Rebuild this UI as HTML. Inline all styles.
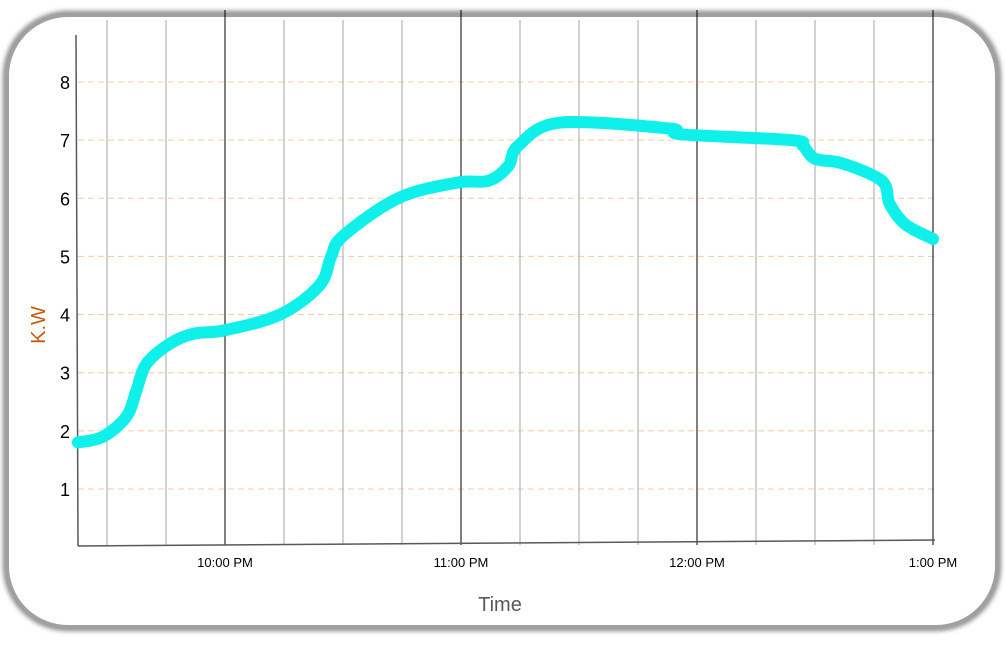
<!DOCTYPE html>
<html><head><meta charset="utf-8"><style>
body{margin:0;background:#fff;width:1005px;height:643px;overflow:hidden;font-family:"Liberation Sans",sans-serif}
</style></head><body>
<svg width="1005" height="643" xmlns="http://www.w3.org/2000/svg">
<defs><filter id="sh" x="-5%" y="-5%" width="110%" height="110%"><feGaussianBlur stdDeviation="2.5"/></filter></defs>
<rect x="6" y="14" width="992" height="614" rx="62" fill="none" stroke="#888" stroke-width="6" filter="url(#sh)"/>
<rect x="8" y="16" width="988" height="610" rx="60" fill="#fff" stroke="#a0a0a0" stroke-width="2"/>
<g id="grid"></g>
<g id="axes"></g>
<path id="line" fill="none" stroke="#0ff0ea" stroke-width="12" stroke-linecap="round" stroke-linejoin="round"/>
<text x="45" y="325" transform="rotate(-90 45 325)" text-anchor="middle" font-size="20" fill="#c55a11">K.W</text>
<text x="500" y="611" text-anchor="middle" font-size="20" fill="#595959">Time</text>
</svg>
<script>
const yTicks=[1,2,3,4,5,6,7,8];
const xTickMinutes=[60,120,180,240];
const xTickLabels=["10:00 PM","11:00 PM","12:00 PM","1:00 PM"];
const minorMinutes=[30,45,75,90,105,135,150,165,195,210,225];
const times=[22.6,29,35,37.5,40,46,52,60,74,84,87,90,104,119,127,132,134.5,145,173,176,204,207,210,217,227,229,233,240];
const values=[1.8,1.9,2.25,2.7,3.15,3.5,3.67,3.73,4.0,4.5,5.0,5.35,6.0,6.27,6.3,6.55,6.9,7.3,7.2,7.1,7.0,6.9,6.68,6.6,6.3,5.9,5.55,5.3];
const NS="http://www.w3.org/2000/svg";
const xs=m=>225+(m-60)*236/60;
const ys=v=>82+(8-v)*58.14;
const grid=document.getElementById('grid'),axes=document.getElementById('axes');
function mk(tag,attrs,parent){const e=document.createElementNS(NS,tag);for(const k in attrs)e.setAttribute(k,attrs[k]);parent.appendChild(e);return e;}
yTicks.forEach(v=>{
 const l=mk('line',{x1:78,x2:935,y1:ys(v),y2:ys(v),stroke:'#f8cbad','stroke-dasharray':'6 4','stroke-width':1},grid);
 
 
 const t=mk('text',{x:70,y:ys(v)+7,'text-anchor':'end','font-size':18,fill:'#000'},axes);
 t.textContent=v;
 
 
});
minorMinutes.forEach(m=>{
 const l=mk('line',{x1:xs(m),x2:xs(m),y1:20,y2:545,stroke:'#a6a6a6','stroke-width':1},grid);
 
 
});
xTickMinutes.forEach((m,i)=>{
 const l=mk('line',{x1:xs(m),x2:xs(m),y1:10,y2:545,stroke:'#000','stroke-width':1},grid);
 
 
 const t=mk('text',{x:xs(m),y:567,'text-anchor':'middle','font-size':13,fill:'#000'},axes);
 t.textContent=xTickLabels[i];
 
 
});
const ya=mk('line',{x1:76,y1:35,x2:78,y2:546,stroke:'#595959','stroke-width':1.5},axes);


const xa=mk('line',{x1:78,y1:546,x2:935,y2:540,stroke:'#595959','stroke-width':1.5},axes);


const P=times.map((t,i)=>[xs(t),ys(values[i])]);
let d='M'+P[0][0]+','+P[0][1];
for(let i=0;i<P.length-1;i++){
 const p0=P[i-1]||P[i],p1=P[i],p2=P[i+1],p3=P[i+2]||P[i+1];
 const c1=[p1[0]+(p2[0]-p0[0])/6,p1[1]+(p2[1]-p0[1])/6];
 const c2=[p2[0]-(p3[0]-p1[0])/6,p2[1]-(p3[1]-p1[1])/6];
 d+=` C${c1[0]},${c1[1]} ${c2[0]},${c2[1]} ${p2[0]},${p2[1]}`;
}
document.getElementById('line').setAttribute('d',d);
</script>
</body></html>
